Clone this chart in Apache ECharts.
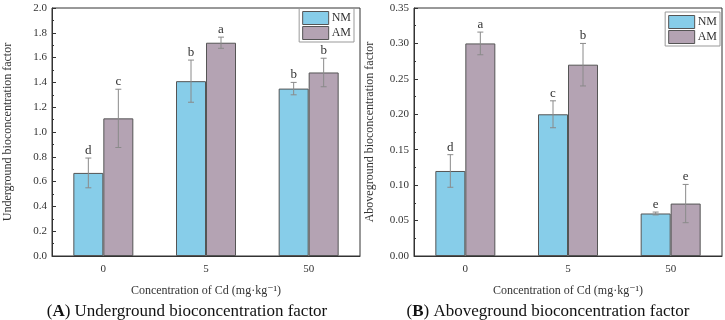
<!DOCTYPE html>
<html>
<head>
<meta charset="utf-8">
<script src="https://cdn.jsdelivr.net/npm/echarts@6/dist/echarts.min.js"></script>
<style>
  html, body { margin: 0; padding: 0; background: #fff; }
  #chart { width: 725px; height: 320px; }
</style>
</head>
<body>
<div id="chart"></div>
<script>
// Cd concentration groups
const categories = ['0', '5', '50'];

// (A) underground
const underNM = [0.67, 1.41, 1.35];
const underAM = [1.11, 1.72, 1.48];
const underNMErr = [0.12, 0.17, 0.05];
const underAMErr = [0.235, 0.045, 0.115];
const underNMLetters = ['d', 'b', 'b'];
const underAMLetters = ['c', 'a', 'b'];

// (B) aboveground
const aboveNM = [0.12, 0.20, 0.06];
const aboveAM = [0.30, 0.27, 0.074];
const aboveNMErr = [0.023, 0.019, 0.002];
const aboveAMErr = [0.016, 0.03, 0.027];
const aboveNMLetters = ['d', 'c', 'e'];
const aboveAMLetters = ['a', 'b', 'e'];

const FONT = '"Liberation Serif", "DejaVu Serif", serif';
const NM_COLOR = '#87cde9';
const AM_COLOR = '#b4a3b3';
const BAR_W = 30;

const chart = echarts.init(document.getElementById('chart'));

function errSeries(axisIdx, means, errs, letters, offset) {
  return {
    type: 'custom',
    name: 'err' + axisIdx + offset,
    xAxisIndex: axisIdx,
    yAxisIndex: axisIdx,
    z: 5,
    data: means.map((v, i) => [i, v, errs[i], letters[i]]),
    encode: {x: 0, y: 1},
    renderItem(params, api) {
      const i = api.value(0), v = api.value(1), e = api.value(2);
      const top = api.coord([i, v + e]);
      const bot = api.coord([i, v - e]);
      const x = top[0] + offset;
      const st = {stroke: '#8a8a8a', lineWidth: 1};
      return {
        type: 'group',
        children: [
          {type: 'line', shape: {x1: x, y1: top[1], x2: x, y2: bot[1]}, style: st},
          {type: 'line', shape: {x1: x - 3, y1: top[1], x2: x + 3, y2: top[1]}, style: st},
          {type: 'line', shape: {x1: x - 3, y1: bot[1], x2: x + 3, y2: bot[1]}, style: st},
          {
            type: 'text',
            style: {
              x: x, y: top[1] - 1,
              text: letters[i],
              align: 'center', verticalAlign: 'bottom',
              font: '13px ' + FONT, fill: '#333'
            }
          }
        ]
      };
    }
  };
}

function xAxisOpt(gi) {
  return {
    type: 'category',
    gridIndex: gi,
    data: categories,
    name: 'Concentration of Cd (mg·kg⁻¹)',
    nameLocation: 'middle',
    nameGap: 29,
    nameTextStyle: {fontFamily: FONT, fontSize: 12, color: '#333'},
    axisLine: {lineStyle: {color: '#333'}},
    axisTick: {inside: true, length: 3, lineStyle: {color: '#333'}},
    axisLabel: {fontFamily: FONT, fontSize: 11, color: '#333', margin: 8},
    splitLine: {show: false}
  };
}

function yAxisOpt(gi, max, interval, name, digits) {
  return {
    type: 'value',
    gridIndex: gi,
    min: 0,
    max: max,
    interval: interval,
    name: name,
    nameLocation: 'middle',
    nameGap: 38,
    nameTextStyle: {fontFamily: FONT, fontSize: 12, color: '#333'},
    axisLine: {show: true, lineStyle: {color: '#333'}},
    axisTick: {show: true, inside: true, length: 4, lineStyle: {color: '#333'}},
    minorTick: {show: true, splitNumber: 2, length: 2, lineStyle: {color: '#333'}},
    axisLabel: {
      fontFamily: FONT, fontSize: 11, color: '#333', margin: 5,
      formatter: v => v.toFixed(digits)
    },
    splitLine: {show: false}
  };
}

function legendOpt(right, top) {
  return {
    orient: 'vertical',
    right: right,
    top: top,
    data: ['NM', 'AM'],
    icon: 'rect',
    itemWidth: 26,
    itemHeight: 13,
    itemGap: 1,
    padding: [3, 3, 2, 3],
    borderColor: '#999',
    borderWidth: 1,
    itemStyle: {borderColor: '#555', borderWidth: 1},
    textStyle: {fontFamily: FONT, fontSize: 12, lineHeight: 13, color: '#333', padding: [0, 0, 0, -2]}
  };
}

const barStyle = color => ({color: color, borderColor: '#555', borderWidth: 1});

const captionStyle = {
  fontFamily: FONT, fontSize: 17, fontWeight: 'normal', color: '#111',
  rich: {b: {fontFamily: FONT, fontSize: 17, fontWeight: 'bold', color: '#111'}}
};

chart.setOption({
  animation: false,
  textStyle: {fontFamily: FONT},
  title: [
    {text: '({b|A}) Underground bioconcentration factor',
      left: 182, top: 298, textAlign: 'center', textStyle: captionStyle},
    {text: '({b|B}) Aboveground bioconcentration factor',
      left: 543, top: 298, textAlign: 'center', textStyle: captionStyle}
  ],
  legend: [legendOpt(371, 8), legendOpt(5, 12)],
  grid: [
    {left: 52, top: 8, width: 308, height: 248, show: true, borderColor: '#333', borderWidth: 1},
    {left: 414, top: 8, width: 308, height: 248, show: true, borderColor: '#333', borderWidth: 1}
  ],
  xAxis: [xAxisOpt(0), xAxisOpt(1)],
  yAxis: [
    yAxisOpt(0, 2.0, 0.2, 'Underground bioconcentration factor', 1),
    yAxisOpt(1, 0.35, 0.05, 'Aboveground bioconcentration factor', 2)
  ],
  series: [
    {name: 'NM', type: 'bar', xAxisIndex: 0, yAxisIndex: 0, data: underNM,
      barWidth: BAR_W, barGap: '0%', itemStyle: barStyle(NM_COLOR)},
    {name: 'AM', type: 'bar', xAxisIndex: 0, yAxisIndex: 0, data: underAM,
      barWidth: BAR_W, barGap: '0%', itemStyle: barStyle(AM_COLOR)},
    {name: 'NM', type: 'bar', xAxisIndex: 1, yAxisIndex: 1, data: aboveNM,
      barWidth: BAR_W, barGap: '0%', itemStyle: barStyle(NM_COLOR)},
    {name: 'AM', type: 'bar', xAxisIndex: 1, yAxisIndex: 1, data: aboveAM,
      barWidth: BAR_W, barGap: '0%', itemStyle: barStyle(AM_COLOR)},
    errSeries(0, underNM, underNMErr, underNMLetters, -BAR_W / 2),
    errSeries(0, underAM, underAMErr, underAMLetters, BAR_W / 2),
    errSeries(1, aboveNM, aboveNMErr, aboveNMLetters, -BAR_W / 2),
    errSeries(1, aboveAM, aboveAMErr, aboveAMLetters, BAR_W / 2)
  ]
});
</script>
</body>
</html>
